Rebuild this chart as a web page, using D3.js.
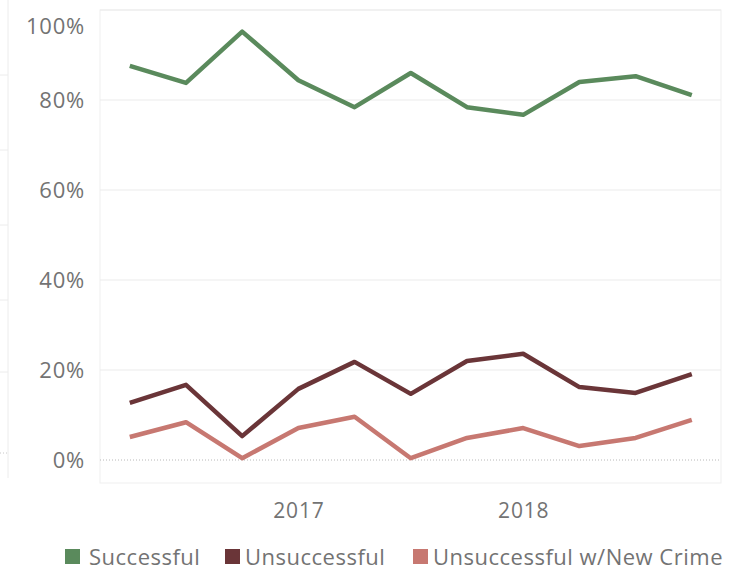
<!DOCTYPE html>
<html>
<head>
<meta charset="utf-8">
<script src="https://cdn.jsdelivr.net/npm/d3@7"></script>
<style>
  body { margin: 0; background: #fff; }
  svg text { font-family: "Open Sans", sans-serif; fill: #737373; }
</style>
</head>
<body>
<div id="chart"></div>
<script>
// quarterly outcome shares, 2016 Q2 .. 2018 Q4
var quarters = ["2016 Q2", "2016 Q3", "2016 Q4", "2017 Q1", "2017 Q2", "2017 Q3",
                "2017 Q4", "2018 Q1", "2018 Q2", "2018 Q3", "2018 Q4"];
var successful = [87.6, 83.8, 95.2, 84.4, 78.4, 86.0, 78.4, 76.7, 84.0, 85.3, 81.1];
var unsuccessful = [12.7, 16.7, 5.3, 15.8, 21.8, 14.7, 22.0, 23.6, 16.2, 14.9, 19.1];
var newCrime = [5.1, 8.4, 0.4, 7.1, 9.6, 0.4, 4.9, 7.1, 3.1, 4.9, 8.9];
var seriesNames = ["Successful", "Unsuccessful", "Unsuccessful w/New Crime"];
var seriesColors = ["#5a8a5c", "#6a3538", "#c77871"];
var yTicks = [0, 20, 40, 60, 80, 100];
var yearTicks = [3, 7];
var yearLabels = ["2017", "2018"];

var W = 746, H = 573;
var pane = { left: 100, right: 721, top: 10, bottom: 483 };

var svg = d3.select("#chart").append("svg")
  .attr("width", W)
  .attr("height", H);

var x = d3.scaleLinear()
  .domain([-0.53, quarters.length - 1 + 0.52])
  .range([pane.left, pane.right]);

var y = d3.scaleLinear()
  .domain([0, 100])
  .range([460, pane.top]);

// faint remnant of a neighbouring pane at the far left
var ghost = svg.append("g").attr("stroke", "#ececec");
ghost.append("line").attr("x1", 8).attr("x2", 8).attr("y1", 0).attr("y2", 478);
[75, 150, 225, 300, 372].forEach(function (gy) {
  ghost.append("line").attr("x1", 0).attr("x2", 8).attr("y1", gy).attr("y2", gy);
});
ghost.append("line").attr("x1", 0).attr("x2", 8).attr("y1", 453).attr("y2", 453)
  .attr("stroke", "#c8c8c8").attr("stroke-dasharray", "1,2");

// pane border
svg.append("rect")
  .attr("x", pane.left).attr("y", pane.top)
  .attr("width", pane.right - pane.left).attr("height", pane.bottom - pane.top)
  .attr("fill", "none").attr("stroke", "#efefef");

// gridlines
svg.append("g")
  .selectAll("line")
  .data(yTicks.filter(function (d) { return d > 0; }))
  .enter().append("line")
  .attr("x1", pane.left).attr("x2", pane.right)
  .attr("y1", function (d) { return y(d); })
  .attr("y2", function (d) { return y(d); })
  .attr("stroke", "#ebebeb");

// zero line
svg.append("line")
  .attr("x1", pane.left).attr("x2", pane.right)
  .attr("y1", y(0)).attr("y2", y(0))
  .attr("stroke", "#b8b8b8")
  .attr("stroke-dasharray", "1,2");

// y axis
var yAxis = svg.append("g")
  .attr("transform", "translate(" + (pane.left - 15) + ",0)")
  .call(d3.axisLeft(y).tickValues(yTicks).tickSize(0).tickPadding(0)
    .tickFormat(function (d) { return d + "%"; }));
yAxis.select(".domain").remove();
yAxis.selectAll("text")
  .style("font-size", "22px")
  .style("letter-spacing", "0.8px")
  .attr("dy", "0.35em")
  .attr("y", function (d) { return d === 100 ? 16 : 0; });

// x axis
var xAxis = svg.append("g")
  .attr("transform", "translate(0," + pane.bottom + ")")
  .call(d3.axisBottom(x).tickValues(yearTicks).tickSize(0).tickPadding(20)
    .tickFormat(function (d, i) { return yearLabels[i]; }));
xAxis.select(".domain").remove();
xAxis.selectAll("text")
  .style("font-size", "21px")
  .style("letter-spacing", "0.8px");

// lines
var line = d3.line()
  .x(function (d, i) { return x(i); })
  .y(function (d) { return y(d); });

[successful, unsuccessful, newCrime].forEach(function (vals, k) {
  svg.append("path")
    .datum(vals)
    .attr("d", line)
    .attr("fill", "none")
    .attr("stroke", seriesColors[k])
    .attr("stroke-width", 4.5)
    .attr("stroke-linejoin", "round");
});

// legend
var legendX = [65, 225, 413];
var legend = svg.append("g");
seriesNames.forEach(function (name, k) {
  legend.append("rect")
    .attr("x", legendX[k]).attr("y", 549)
    .attr("width", 15).attr("height", 15)
    .attr("fill", seriesColors[k]);
  legend.append("text")
    .attr("x", legendX[k] + (k === 0 ? 24 : 20)).attr("y", 565)
    .style("font-size", "22px")
    .style("letter-spacing", "0.5px")
    .text(name);
});
</script>
</body>
</html>
